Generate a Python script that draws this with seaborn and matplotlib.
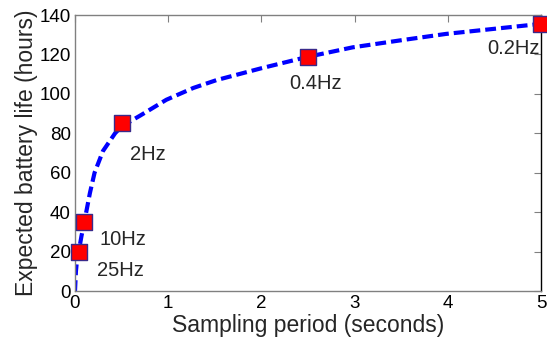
import numpy as np
import pandas as pd
import matplotlib
matplotlib.use('Agg')
import matplotlib.pyplot as plt
import seaborn as sns

# -------------------- DATA --------------------
# dashed model curve
curve_x = [0, 0.005, 0.01, 0.02, 0.04, 0.07, 0.1, 0.16, 0.21, 0.3, 0.43, 0.5,
           0.7, 0.98, 1.27, 1.52, 2.0, 2.48, 2.98, 3.5, 3.98, 4.5, 5.0]
curve_y = [0, 5, 10, 15, 20, 28, 35, 49.7, 60, 71, 80, 83.5,
           89, 97, 103, 107, 113, 118.6, 123.6, 127.2, 130.4, 133, 135.5]

# measured points
period = [0.04, 0.1, 0.5, 2.5, 5.0]
battery = [20, 35, 85, 118.5, 135.5]
labels = ['25Hz', '10Hz', '2Hz', '0.4Hz', '0.2Hz']

# label anchors (data coords) and alignment
label_x = [0.24, 0.26, 0.59, 2.58, 4.99]
label_y = [10.6, 26, 69, 105.5, 122.8]
label_ha = ['left', 'left', 'left', 'center', 'right']

curve_df = pd.DataFrame({'x': curve_x, 'y': curve_y})
pts_df = pd.DataFrame({'x': period, 'y': battery})

# -------------------- PLOT --------------------
sns.set_style('white')
plt.rcParams['font.family'] = ['Liberation Sans', 'DejaVu Sans']
plt.rcParams['font.size'] = 13

fig = plt.figure(figsize=(5.47, 3.42), dpi=100)
ax = fig.add_axes([75 / 547, 51 / 342, 466 / 547, 276 / 342])

sns.lineplot(data=curve_df, x='x', y='y', ax=ax, color='#0000ff',
             linewidth=3, sort=False, estimator=None)
ax.lines[0].set_dashes((2.6, 1.2))

sns.scatterplot(data=pts_df, x='x', y='y', ax=ax, marker='s', s=140,
                color='#ff0000', edgecolor='#3a2a8a', linewidth=1,
                clip_on=False, zorder=5)

for lx, ly, txt, ha in zip(label_x, label_y, labels, label_ha):
    ax.text(lx, ly, txt, ha=ha, va='center', fontsize=14.5)

ax.set_xlim(0, 5)
ax.set_ylim(0, 140)
ax.set_xticks([0, 1, 2, 3, 4, 5])
ax.set_yticks(np.arange(0, 141, 20))
ax.set_xlabel('Sampling period (seconds)', fontsize=16.5, labelpad=1)
ax.set_ylabel('Expected battery life (hours)', fontsize=16.5, labelpad=1)

ax.tick_params(direction='in', length=5, width=0.8, top=True, right=True,
               colors='#808080', labelcolor='black', labelsize=13.5, pad=3)
for side in ['left', 'top', 'bottom']:
    ax.spines[side].set_color('#808080')
    ax.spines[side].set_linewidth(1)
ax.spines['right'].set_color('black')
ax.spines['right'].set_linewidth(1)

fig.savefig('out.png', dpi=100)
